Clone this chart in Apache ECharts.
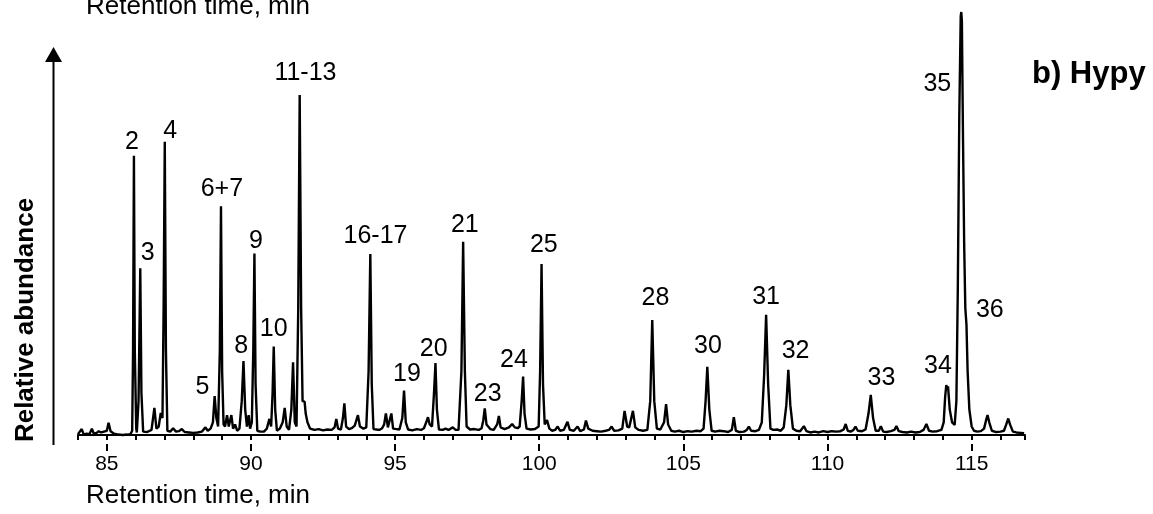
<!DOCTYPE html>
<html>
<head>
<meta charset="utf-8">
<script src="https://cdn.jsdelivr.net/npm/echarts@6/dist/echarts.min.js"></script>
<style>
  html, body { margin: 0; padding: 0; background: #fff; }
  #chart { width: 1153px; height: 514px; }
</style>
</head>
<body>
<div id="chart"></div>
<script>
// chromatogram trace, [retention time (min), relative abundance]
const trace = [
    [84.0, 0.2], [84.06, 0.1], [84.13, 1.4], [84.2, 0.1], [84.3, 0.3], [84.4, 0.2], [84.48, 1.5], [84.55, 0.3],
    [84.65, 0.5], [84.72, 0.9], [84.8, 0.6], [84.9, 0.8], [85.0, 1.0], [85.06, 2.9], [85.13, 0.9], [85.25, 0.3],
    [85.4, 0.1], [85.55, 0.0], [85.7, 0.1], [85.82, 0.2], [85.88, 1.0], [85.91, 20], [85.94, 66.0], [85.97, 20],
    [86.02, 1.5], [86.04, 0.6], [86.1, 8], [86.16, 39.4], [86.2, 10], [86.26, 0.8], [86.4, 0.7], [86.55, 1.2],
    [86.65, 6.4], [86.72, 1.5], [86.8, 2.0], [86.87, 5.2], [86.93, 4.0], [86.97, 30], [87.01, 69.3], [87.05, 20],
    [87.1, 1.0], [87.2, 0.8], [87.3, 1.6], [87.4, 0.8], [87.5, 0.9], [87.6, 1.4], [87.7, 0.7], [87.85, 0.6],
    [88.0, 0.5], [88.15, 0.6], [88.3, 0.8], [88.42, 1.8], [88.5, 1.0], [88.6, 1.5], [88.68, 3], [88.74, 9.2],
    [88.8, 4], [88.86, 2.0], [88.92, 20], [88.96, 54.1], [89.0, 15], [89.05, 2.5], [89.1, 2.0], [89.17, 4.7],
    [89.23, 2.0], [89.32, 4.7], [89.38, 1.5], [89.45, 2.5], [89.52, 1.0], [89.6, 1.5], [89.68, 8], [89.74, 17.5],
    [89.8, 6], [89.86, 2.0], [89.92, 4.7], [89.97, 1.5], [90.03, 3], [90.08, 20], [90.12, 42.9], [90.16, 12],
    [90.22, 1.0], [90.32, 0.8], [90.45, 0.8], [90.55, 1.5], [90.64, 3.8], [90.7, 2.0], [90.75, 10], [90.79, 20.9],
    [90.84, 6], [90.9, 1.0], [91.0, 1.5], [91.1, 3], [91.17, 6.4], [91.24, 2], [91.32, 1.2], [91.4, 6],
    [91.46, 17.2], [91.52, 3], [91.58, 2.0], [91.64, 30], [91.69, 80.4], [91.74, 30], [91.79, 8], [91.86, 7.9],
    [91.9, 5], [91.96, 3], [92.05, 1.5], [92.2, 1.2], [92.35, 1.4], [92.5, 1.1], [92.65, 1.3], [92.8, 1.2],
    [92.9, 1.8], [92.96, 3.8], [93.02, 1.5], [93.12, 1.3], [93.19, 4], [93.24, 7.5], [93.3, 2.0], [93.4, 1.4],
    [93.5, 1.6], [93.6, 2.2], [93.71, 4.7], [93.78, 2.0], [93.9, 1.5], [94.0, 1.8], [94.08, 15], [94.14, 42.8],
    [94.19, 12], [94.25, 1.4], [94.35, 1.3], [94.45, 1.2], [94.55, 1.6], [94.62, 2.5], [94.68, 5.1], [94.75, 1.8],
    [94.8, 2], [94.87, 5.1], [94.93, 1.5], [95.05, 1.4], [95.15, 1.3], [95.25, 4], [95.31, 10.5], [95.37, 3],
    [95.45, 1.3], [95.6, 1.1], [95.75, 1.4], [95.9, 1.2], [96.0, 1.6], [96.08, 3], [96.14, 4.2], [96.2, 2.5],
    [96.28, 2.0], [96.35, 10], [96.40, 17.0], [96.45, 6], [96.52, 1.3], [96.65, 1.2], [96.75, 1.5], [96.85, 1.2],
    [97.0, 1.8], [97.1, 1.2], [97.2, 1.2], [97.3, 15], [97.36, 45.7], [97.42, 15], [97.48, 2.0], [97.6, 1.3],
    [97.75, 1.4], [97.9, 1.2], [98.0, 1.6], [98.06, 3.5], [98.11, 6.3], [98.17, 2.5], [98.3, 1.4], [98.42, 1.2],
    [98.54, 2.5], [98.60, 4.5], [98.66, 1.8], [98.8, 1.4], [98.95, 1.8], [99.06, 2.6], [99.15, 1.8], [99.25, 1.6],
    [99.32, 2], [99.39, 8], [99.44, 13.8], [99.49, 5], [99.56, 1.5], [99.7, 1.3], [99.85, 1.4], [99.98, 2],
    [100.03, 15], [100.08, 40.4], [100.13, 12], [100.19, 2.5], [100.27, 3.5], [100.35, 1.5], [100.45, 1.0], [100.55, 1.2],
    [100.64, 2.0], [100.72, 1.0], [100.85, 1.2], [100.98, 3.1], [101.06, 1.2], [101.2, 1.0], [101.33, 2.0], [101.42, 0.9],
    [101.55, 1.3], [101.62, 3.4], [101.7, 1.5], [101.85, 1.0], [102.0, 0.9], [102.15, 0.8], [102.3, 1.0], [102.42, 1.2],
    [102.51, 2.0], [102.6, 1.0], [102.75, 1.1], [102.88, 1.5], [102.96, 5.7], [103.05, 2.0], [103.12, 1.8], [103.25, 5.7],
    [103.33, 1.8], [103.45, 1.2], [103.6, 1.0], [103.75, 1.2], [103.85, 8], [103.92, 27.2], [103.99, 8], [104.08, 1.5],
    [104.2, 1.3], [104.33, 3], [104.40, 7.3], [104.47, 2.5], [104.58, 1.0], [104.7, 0.8], [104.85, 1.0], [105.0, 0.7],
    [105.15, 0.9], [105.3, 0.8], [105.45, 1.0], [105.6, 0.9], [105.7, 1.5], [105.77, 8], [105.83, 16.1], [105.9, 6],
    [105.98, 1.0], [106.1, 0.8], [106.25, 1.0], [106.4, 0.9], [106.55, 0.7], [106.68, 1.2], [106.75, 4.2], [106.82, 1.0],
    [106.95, 0.7], [107.1, 0.8], [107.2, 1.2], [107.27, 2.0], [107.35, 1.0], [107.5, 0.9], [107.62, 1.2], [107.72, 3],
    [107.8, 14], [107.87, 28.4], [107.94, 12], [108.02, 1.5], [108.12, 1.2], [108.25, 1.3], [108.38, 1.0], [108.48, 1.8],
    [108.57, 7], [108.64, 15.4], [108.71, 7], [108.8, 1.5], [108.92, 1.0], [109.05, 0.9], [109.18, 2.1], [109.27, 0.9],
    [109.4, 0.6], [109.55, 0.8], [109.7, 0.6], [109.85, 0.9], [110.0, 0.7], [110.15, 0.9], [110.3, 0.8], [110.45, 0.9],
    [110.56, 1.3], [110.63, 2.6], [110.7, 1.0], [110.8, 0.8], [110.9, 1.2], [110.97, 2.0], [111.05, 1.0], [111.2, 0.9],
    [111.32, 1.3], [111.42, 5], [111.5, 9.5], [111.58, 4], [111.67, 1.0], [111.78, 1.0], [111.85, 2.1], [111.93, 0.8],
    [112.05, 0.7], [112.2, 0.9], [112.32, 1.2], [112.39, 2.1], [112.47, 0.9], [112.6, 0.7], [112.75, 0.6], [112.9, 0.8],
    [113.05, 0.6], [113.2, 0.7], [113.33, 1.2], [113.43, 2.6], [113.52, 1.0], [113.65, 0.8], [113.8, 0.9], [113.95, 1.2],
    [114.03, 3], [114.08, 9], [114.12, 11.8], [114.15, 10.8], [114.18, 11.5], [114.24, 6], [114.32, 3], [114.41, 2.4],
    [114.47, 8], [114.52, 35], [114.57, 75], [114.62, 99], [114.64, 100], [114.66, 98], [114.70, 70], [114.74, 45],
    [114.78, 30], [114.82, 26], [114.86, 15], [114.92, 6], [115.0, 2], [115.08, 1.0], [115.2, 0.8], [115.32, 0.9],
    [115.43, 1.5], [115.5, 3.5], [115.55, 4.7], [115.61, 3], [115.7, 1.0], [115.85, 0.7], [116.0, 0.8], [116.12, 1.0],
    [116.2, 2.5], [116.27, 3.9], [116.33, 2.5], [116.43, 0.8], [116.55, 0.6], [116.7, 0.5], [116.82, 0.4]
];

// peak labels and where they sit
const peakNames = ["2", "3", "4", "5", "6+7", "8", "9", "10", "11-13", "16-17", "19", "20", "21", "23",
    "24", "25", "28", "30", "31", "32", "33", "34", "35", "36"];
const labelTimes = [85.87, 86.42, 87.20, 88.32, 88.99, 89.66, 90.17, 90.79, 91.89, 94.32, 95.41, 96.34, 97.42, 98.21,
    99.12, 100.16, 104.03, 105.85, 107.87, 108.89, 111.87, 113.83, 113.81, 115.63];
const labelLevels = [69.3, 43.0, 71.9, 11.3, 58.1, 21.1, 45.9, 25.0, 85.6, 46.9, 14.4, 20.3, 49.6, 9.6,
    17.7, 44.9, 32.3, 20.9, 32.5, 19.9, 13.4, 16.3, 83.0, 29.6];

const majorTicks = [85, 90, 95, 100, 105, 110, 115];

const FONT = "Liberation Sans, Arial, sans-serif";

const labelData = peakNames.map((n, i) => ({ name: n, value: [labelTimes[i], labelLevels[i]] }));

const chart = echarts.init(document.getElementById("chart"));

const xBase = {
    type: "value",
    min: 84,
    max: 116.85,
    splitLine: { show: false }
};

const option = {
    animation: false,
    backgroundColor: "#fff",
    grid: { left: 78, right: 128, top: 12, bottom: 70 },
    xAxis: [
        Object.assign({}, xBase, {
            interval: 1,
            axisLine: { lineStyle: { color: "#000", width: 2.2 } },
            axisTick: { length: 5, lineStyle: { color: "#000", width: 2 } },
            axisLabel: {
                interval: 0,
                margin: 10,
                color: "#000",
                fontFamily: FONT,
                fontSize: 21,
                formatter: v => (v % 5 === 0 ? String(v) : "")
            }
        }),
        Object.assign({}, xBase, {
            position: "bottom",
            axisLine: { show: false },
            axisTick: { customValues: majorTicks, length: 7, lineStyle: { color: "#000", width: 2 } },
            axisLabel: { show: false }
        })
    ],
    yAxis: {
        type: "value",
        min: -2.13,
        max: 100,
        show: false
    },
    series: [
        {
            type: "line",
            data: trace,
            symbol: "none",
            lineStyle: { color: "#000", width: 2.4 },
            z: 3
        },
        {
            type: "scatter",
            data: labelData,
            symbolSize: 1,
            itemStyle: { color: "rgba(0,0,0,0)", opacity: 1 },
            label: {
                show: true,
                position: "inside",
                formatter: "{b}",
                color: "#000",
                opacity: 1,
                fontFamily: FONT,
                fontSize: 25
            },
            z: 4
        }
    ],
    graphic: [
        // bit of the panel above, cut by the top edge
        {
            type: "text", left: 86, top: -6,
            style: { text: "Retention time, min", fill: "#000", font: "26px " + FONT }
        },
        {
            type: "text", left: 86, top: 483,
            style: { text: "Retention time, min", fill: "#000", font: "26px " + FONT }
        },
        {
            type: "text", x: 26, y: 320, rotation: Math.PI / 2,
            style: {
                text: "Relative abundance", fill: "#000", font: "bold 26px " + FONT,
                align: "center", verticalAlign: "middle"
            }
        },
        {
            type: "text", x: 1032, y: 74,
            style: {
                text: "b) Hypy", fill: "#000", font: "bold 31px " + FONT,
                align: "left", verticalAlign: "middle"
            }
        },
        // abundance arrow
        {
            type: "line",
            shape: { x1: 53.5, y1: 445, x2: 53.5, y2: 58 },
            style: { stroke: "#000", lineWidth: 2 }
        },
        {
            type: "polygon",
            shape: { points: [[53.5, 47], [45, 62], [62, 62]] },
            style: { fill: "#000" }
        }
    ]
};

chart.setOption(option);
</script>
</body>
</html>
